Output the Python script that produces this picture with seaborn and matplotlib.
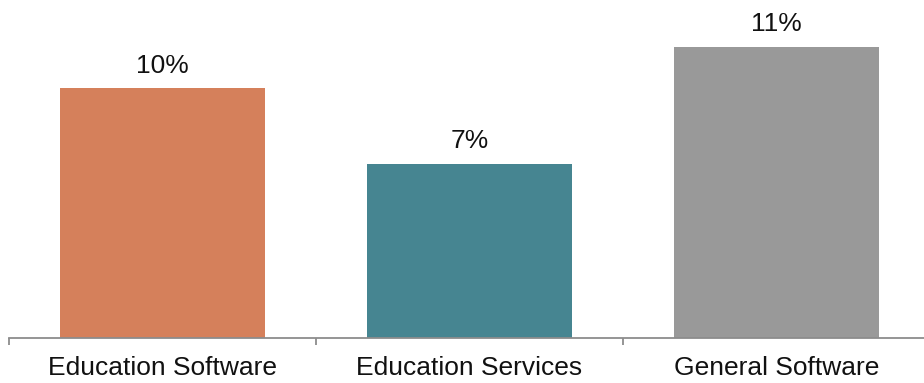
import matplotlib
matplotlib.use("Agg")
import matplotlib.pyplot as plt
import seaborn as sns
import pandas as pd

categories = ["Education Software", "Education Services", "General Software"]
values = [9.6, 6.7, 11.2]
labels = ["10%", "7%", "11%"]
colors = ["#D5805B", "#468591", "#999999"]

sns.set_theme(style="white")
plt.rcParams['font.family'] = ['Liberation Sans', 'DejaVu Sans']

df = pd.DataFrame({"category": categories, "value": values})

fig = plt.figure(figsize=(9.24, 3.83), dpi=100)
ax = fig.add_axes([9 / 924, 45 / 383, 921 / 924, 338 / 383])

sns.barplot(data=df, x="category", y="value", hue="category", palette=colors,
            width=0.667, saturation=1, legend=False, linewidth=0, ax=ax)

for cont, lab in zip(ax.containers, labels):
    ax.bar_label(cont, labels=[lab], padding=7.5, fontsize=19, color="#111111")

ax.set_xlim(-0.5, 2.5)
ax.set_ylim(0, 13)
ax.set_xlabel("")
ax.set_ylabel("")
ax.set_yticks([])
for s in ["top", "right", "left"]:
    ax.spines[s].set_visible(False)
ax.spines["bottom"].set_color("#8c8c8c")
ax.spines["bottom"].set_linewidth(1.3)

ax.set_xticks([-0.5, 0.5, 1.5, 2.5], minor=True)
ax.tick_params(axis="x", which="minor", bottom=True, length=5, width=1.3,
               color="#8c8c8c", direction="out")
ax.tick_params(axis="x", which="major", bottom=False, length=0, pad=13,
               labelsize=19, labelcolor="#111111")

fig.savefig("out.png", dpi=100)
